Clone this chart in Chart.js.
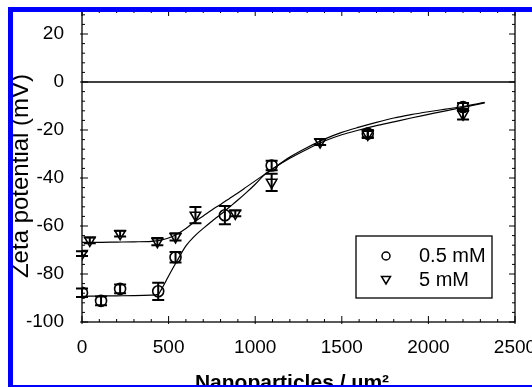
<!DOCTYPE html>
<html>
<head>
<meta charset="utf-8">
<script src="https://cdn.jsdelivr.net/npm/chart.js@4.4.0/dist/chart.umd.min.js"></script>
<style>
  html, body { margin: 0; padding: 0; background: #fff; }
  canvas { display: block; }
</style>
</head>
<body>
<canvas id="zetaChart" width="532" height="387"></canvas>
<script>
const FONT = "'Liberation Sans', Arial, Helvetica, sans-serif";

// 0.5 mM measurements
const lowX = [0, 110, 220, 440, 540, 825, 1095, 1650, 2200];
const lowY = [-87.8, -91.2, -86.2, -87.2, -73.0, -55.5, -34.8, -21.5, -10.4];
const lowErr = [1.8, 1.8, 1.8, 3.6, 2.2, 3.8, 2.0, 1.5, 1.6];

// 5 mM measurements
const highX = [0, 45, 220, 435, 540, 655, 885, 1095, 1375, 1650, 2200];
const highY = [-71.5, -66.0, -63.2, -66.5, -64.5, -55.5, -54.7, -41.8, -25.0, -21.8, -13.4];
const highErr = [1.0, 1.2, 1.2, 1.5, 1.5, 3.4, 1.2, 3.6, 1.2, 1.5, 2.2];

// fitted curves
const lowFitX = [0, 100, 200, 300, 400, 440, 460, 500, 550, 600, 650, 700, 750, 800, 850, 900, 950, 1000, 1050, 1100,
                 1200, 1300, 1400, 1500, 1600, 1700, 1800, 1900, 2000, 2100, 2200, 2325];
const lowFitY = [-89.3, -89.2, -89.1, -89.0, -88.8, -88.5, -86.2, -80.8, -74.4, -68.3, -64.2, -61.0, -58.0, -55.2, -52.2, -49.2, -46.0, -42.6, -38.9, -36.3,
                 -31.3, -27.3, -23.8, -21.0, -18.8, -16.8, -15.0, -13.6, -12.4, -11.3, -10.2, -8.5];
const highFitX = [0, 100, 200, 300, 400, 450, 500, 550, 600, 650, 700, 750, 800, 850, 900, 950, 1000, 1050, 1100,
                  1200, 1300, 1400, 1500, 1600, 1700, 1800, 1900, 2000, 2100, 2200, 2325];
const highFitY = [-66.8, -66.8, -66.7, -66.6, -66.4, -66.0, -65.0, -63.3, -61.0, -58.2, -55.8, -53.3, -51.0, -48.6, -46.2, -43.7, -41.2, -38.7, -36.2,
                  -31.8, -28.0, -24.6, -22.0, -20.0, -18.2, -16.6, -15.0, -13.5, -12.0, -10.6, -8.7];

const seriesNames = ['0.5 mM', '5 mM'];
const xTicks = [0, 500, 1000, 1500, 2000, 2500];
const yTicks = [-100, -80, -60, -40, -20, 0, 20];

function pts(xs, ys) {
    return xs.map((x, i) => ({ x: x, y: ys[i] }));
}

// error bars under the markers
const errorBars = {
    id: 'errorBars',
    beforeDatasetsDraw(chart) {
        const ctx = chart.ctx;
        const xs = chart.scales.x, ys = chart.scales.y;
        const sets = [[lowX, lowY, lowErr], [highX, highY, highErr]];
        ctx.save();
        ctx.strokeStyle = '#000';
        ctx.lineWidth = 2;
        sets.forEach(([bx, by, be]) => {
            bx.forEach((v, i) => {
                const px = xs.getPixelForValue(v);
                const top = ys.getPixelForValue(by[i] + be[i]);
                const bot = ys.getPixelForValue(by[i] - be[i]);
                ctx.beginPath();
                ctx.moveTo(px, top); ctx.lineTo(px, bot);
                ctx.moveTo(px - 6, top); ctx.lineTo(px + 6, top);
                ctx.moveTo(px - 6, bot); ctx.lineTo(px + 6, bot);
                ctx.stroke();
            });
        });
        ctx.restore();
    }
};

// box, inward ticks, zero line, legend, titles and the blue frame
const decorations = {
    id: 'decorations',
    afterDraw(chart) {
        const ctx = chart.ctx;
        const a = chart.chartArea;
        const xs = chart.scales.x, ys = chart.scales.y;
        ctx.save();
        ctx.strokeStyle = '#000';
        ctx.lineWidth = 1.3;
        ctx.strokeRect(a.left, a.top, a.right - a.left, a.bottom - a.top);

        const y0 = ys.getPixelForValue(0);
        ctx.beginPath();
        ctx.moveTo(a.left, y0); ctx.lineTo(a.right, y0);
        ctx.stroke();

        ctx.lineWidth = 1;
        ctx.beginPath();
        for (let v = 0; v <= 2500; v += 100) {
            const px = xs.getPixelForValue(v);
            const len = v % 500 === 0 ? 6 : 3;
            ctx.moveTo(px, a.bottom + (len > 3 ? 2 : 0)); ctx.lineTo(px, a.bottom - len);
            ctx.moveTo(px, a.top); ctx.lineTo(px, a.top + len);
        }
        for (let v = -100; v <= 30; v += 4) {
            const py = ys.getPixelForValue(v);
            const len = v % 20 === 0 ? 6 : 3;
            ctx.moveTo(a.left - (len > 3 ? 2 : 0), py); ctx.lineTo(a.left + len, py);
            ctx.moveTo(a.right, py); ctx.lineTo(a.right - len, py);
        }
        ctx.stroke();

        // legend
        ctx.lineWidth = 1.3;
        ctx.strokeRect(356, 236, 136, 62);
        ctx.lineWidth = 1.5;
        ctx.beginPath();
        ctx.arc(386, 256, 4, 0, Math.PI * 2);
        ctx.stroke();
        ctx.beginPath();
        ctx.moveTo(381.5, 276.5); ctx.lineTo(390.5, 276.5); ctx.lineTo(386, 284);
        ctx.closePath();
        ctx.stroke();
        ctx.fillStyle = '#000';
        ctx.font = '20px ' + FONT;
        ctx.textAlign = 'left';
        ctx.textBaseline = 'middle';
        ctx.fillText(seriesNames[0], 419, 256);
        ctx.fillText(seriesNames[1], 419, 280);

        // axis titles
        ctx.font = 'bold 21px ' + FONT;
        ctx.textAlign = 'center';
        ctx.textBaseline = 'alphabetic';
        ctx.fillText('Nanoparticles / \u00b5m\u00b2', 292, 389);
        ctx.save();
        ctx.translate(28, 176);
        ctx.rotate(-Math.PI / 2);
        ctx.font = '24px ' + FONT;
        ctx.fillText('Zeta potential (mV)', 0, 0);
        ctx.restore();

        ctx.strokeStyle = '#0000ff';
        ctx.lineWidth = 5;
        ctx.strokeRect(10.5, 9.5, 560, 378);
        ctx.restore();
    }
};

const ctx = document.getElementById('zetaChart').getContext('2d');
new Chart(ctx, {
    type: 'scatter',
    data: {
        datasets: [
            {
                label: seriesNames[0],
                data: pts(lowX, lowY),
                pointStyle: 'circle',
                pointRadius: 5.5,
                pointBorderWidth: 1.6,
                borderColor: '#000',
                backgroundColor: 'rgba(0,0,0,0)'
            },
            {
                label: seriesNames[1],
                data: pts(highX, highY),
                pointStyle: 'triangle',
                pointRotation: 180,
                pointRadius: 6,
                pointBorderWidth: 1.6,
                borderColor: '#000',
                backgroundColor: 'rgba(0,0,0,0)'
            },
            {
                label: seriesNames[0] + ' fit',
                data: pts(lowFitX, lowFitY),
                showLine: true,
                pointRadius: 0,
                borderColor: '#000',
                borderWidth: 1.2,
                cubicInterpolationMode: 'monotone'
            },
            {
                label: seriesNames[1] + ' fit',
                data: pts(highFitX, highFitY),
                showLine: true,
                pointRadius: 0,
                borderColor: '#000',
                borderWidth: 1.2,
                cubicInterpolationMode: 'monotone'
            }
        ]
    },
    options: {
        responsive: false,
        animation: false,
        layout: { padding: { left: 0, right: 17, top: 10, bottom: 0 } },
        plugins: {
            legend: { display: false },
            tooltip: { enabled: false }
        },
        scales: {
            x: {
                type: 'linear',
                min: 0,
                max: 2500,
                grid: { display: false },
                border: { display: false },
                ticks: { color: '#000', font: { family: FONT, size: 19 }, padding: 6, callback: v => String(v) },
                afterBuildTicks: s => { s.ticks = xTicks.map(v => ({ value: v })); },
                afterFit: s => { s.height = 65; s.paddingLeft = 0; s.paddingRight = 0; }
            },
            y: {
                type: 'linear',
                min: -100,
                max: 30,
                grid: { display: false },
                border: { display: false },
                ticks: { color: '#000', font: { family: FONT, size: 19 }, padding: 10, callback: v => String(v) },
                afterBuildTicks: s => { s.ticks = yTicks.map(v => ({ value: v })); },
                afterFit: s => { s.width = 82; s.paddingTop = 0; s.paddingBottom = 0; }
            }
        }
    },
    plugins: [errorBars, decorations]
});
</script>
</body>
</html>
